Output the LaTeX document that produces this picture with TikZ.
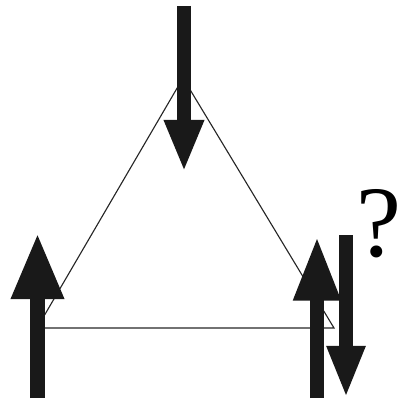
\documentclass[tikz,border=0pt]{standalone}
\usepackage{fontspec}
\usepackage{tikz}
\usetikzlibrary{arrows.meta,calc}
\newfontfamily\qfont{Liberation Serif}

\begin{document}
\begin{tikzpicture}[x=0.025cm, y=-0.025cm,
    bond/.style={line width=0.8pt, black!85},
    spin/.style={line width=10.6pt, black!90}]
  \useasboundingbox (0,0) rectangle (401,405);
  % triangle vertices
  \coordinate (vtop) at (183,78);
  \coordinate (vleft) at (37,328);
  \coordinate (vright) at (334,328);
  % bonds of the triangle
  \draw[bond] (vtop) -- (vleft) -- (vright) -- cycle;

  % spin ends
  \coordinate (topS) at (184,6);
  \coordinate (topE) at (184,172);
  \coordinate (leftS) at (37.5,398);
  \coordinate (leftE) at (37.5,233);
  \coordinate (upS) at (317,398);
  \coordinate (upE) at (317,236);
  \coordinate (downS) at (346,235);
  \coordinate (downE) at (346,398);

  % spins (frustrated site on the right)
  \draw[spin, -{Triangle[width=26pt, length=37pt]}] (topS) -- (topE);
  \draw[spin, -{Triangle[width=35pt, length=47pt]}] (leftS) -- (leftE);
  \draw[spin, -{Triangle[width=31pt, length=46pt]}] (upS) -- (upE);
  \draw[spin, -{Triangle[width=25pt, length=37pt]}] (downS) -- (downE);

  \node[font=\qfont\fontsize{72}{72}\selectfont] (qmark) at (379,224) {?};
\end{tikzpicture}
\end{document}
